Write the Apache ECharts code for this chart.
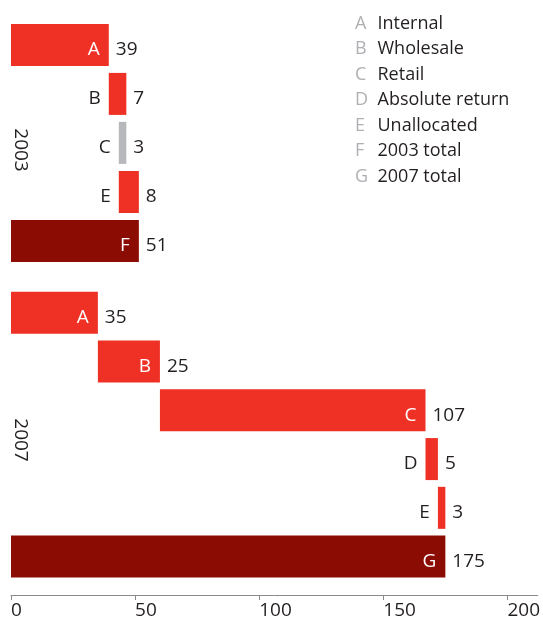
<!DOCTYPE html>
<html><head><meta charset="utf-8">
<script src="https://cdn.jsdelivr.net/npm/echarts@6/dist/echarts.min.js"></script>
<style>html,body{margin:0;padding:0;background:#fff}#c{width:543px;height:620px}</style>
</head><body><div id="c"></div>
<script>
// ---- data ----
const cats2003 = ['A', 'B', 'C', 'E', 'F'];
const values2003 = [39, 7, -3, 8, 51];
const totals2003 = [false, false, false, false, true];
const cats2007 = ['A', 'B', 'C', 'D', 'E', 'G'];
const values2007 = [35, 25, 107, 5, 3, 175];
const totals2007 = [false, false, false, false, false, true];
const years = ['2003', '2007'];
const legendLetters = ['A', 'B', 'C', 'D', 'E', 'F', 'G'];
const legendNames = ['Internal', 'Wholesale', 'Retail', 'Absolute return', 'Unallocated', '2003 total', '2007 total'];
const xTicks = [0, 50, 100, 150, 200];

// ---- styling ----
const FONT = 'Open Sans';
const RED = '#ee3124', DARK = '#8b0c03', GREY = '#b6b8bb', TXT = '#231f20', LGREY = '#aeb0b3';
const XMAX = 212.2;

function waterfall(values, totals) {
  let run = 0; const base = [], len = [], end = [];
  values.forEach((v, i) => {
    if (totals[i]) { base.push(0); len.push(v); end.push(v); run = v; }
    else if (v >= 0) { base.push(run); len.push(v); run += v; end.push(run); }
    else { run += v; base.push(run); len.push(-v); end.push(run - v); }
  });
  return { base, len, end };
}

function seriesFor(gi, cats, values, totals) {
  const w = waterfall(values, totals);
  const common = { type: 'bar', xAxisIndex: gi, yAxisIndex: gi, barWidth: 42, barGap: '-100%', silent: true, animation: false };
  const lbl = { fontFamily: FONT, fontSize: 19, offset: [0, 5] };
  return [
    Object.assign({}, common, { stack: 's' + gi, itemStyle: { color: 'transparent' }, data: w.base }),
    Object.assign({}, common, {
      stack: 's' + gi,
      data: w.len.map((l, i) => {
        const wide = Math.abs(values[i]) >= 20;
        return {
          value: l,
          itemStyle: { color: totals[i] ? DARK : (values[i] < 0 ? GREY : RED) },
          label: Object.assign({}, lbl, {
            show: true, formatter: cats[i],
            position: wide ? 'insideRight' : 'left',
            distance: wide ? 9 : 8,
            color: wide ? '#fff' : TXT
          })
        };
      })
    }),
    Object.assign({}, common, {
      itemStyle: { color: 'transparent' },
      data: w.end,
      label: Object.assign({}, lbl, {
        show: true, position: 'right', distance: 7, color: TXT,
        formatter: p => String(Math.abs(values[p.dataIndex]))
      })
    })
  ];
}

const chart = echarts.init(document.getElementById('c'));
chart.setOption({
  animation: false,
  grid: [
    { left: 11, right: 0, top: 20.4, height: 245 },
    { left: 11, right: 0, top: 288.4, height: 294 }
  ],
  xAxis: [
    { type: 'value', gridIndex: 0, min: 0, max: XMAX, show: false },
    {
      type: 'value', gridIndex: 1, min: 0, max: XMAX, offset: 14,
      splitLine: { show: false },
      axisLine: { show: true, lineStyle: { color: '#8a8a8a', width: 1 } },
      axisTick: { show: true, customValues: xTicks, length: 5, lineStyle: { color: '#8a8a8a' } },
      axisLabel: { customValues: xTicks, align: 'left', margin: 6, fontFamily: FONT, fontSize: 19, color: TXT }
    }
  ],
  yAxis: [
    { type: 'category', gridIndex: 0, data: cats2003, inverse: true, show: false },
    { type: 'category', gridIndex: 1, data: cats2007, inverse: true, show: false }
  ],
  series: [].concat(
    seriesFor(0, cats2003, values2003, totals2003),
    seriesFor(1, cats2007, values2007, totals2007)
  ),
  graphic: [
    { type: 'text', x: 20, y: 150, rotation: -Math.PI / 2,
      style: { text: years[0], fontFamily: FONT, fontSize: 19, fill: TXT, align: 'center', verticalAlign: 'middle' } },
    { type: 'text', x: 20, y: 440, rotation: -Math.PI / 2,
      style: { text: years[1], fontFamily: FONT, fontSize: 19, fill: TXT, align: 'center', verticalAlign: 'middle' } },
    { type: 'text', x: 355, y: 11,
      style: {
        text: legendLetters.map((l, i) => '{l|' + l + '}{n|' + legendNames[i] + '}').join('\n'),
        rich: {
          l: { fill: LGREY, fontFamily: FONT, fontSize: 18, width: 22.5, lineHeight: 25.5 },
          n: { fill: TXT, fontFamily: FONT, fontSize: 18, lineHeight: 25.5 }
        }
      } }
  ]
});
</script></body></html>
